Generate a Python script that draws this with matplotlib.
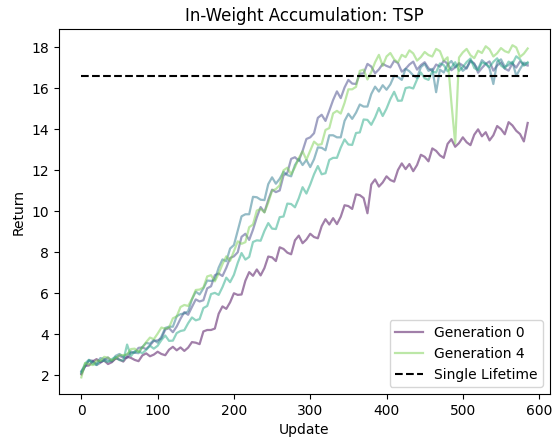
import numpy as np
import matplotlib
matplotlib.use("Agg")
import matplotlib.pyplot as plt

updates = np.arange(0, 590, 5)

gen0 = [2.05, 2.46, 2.48, 2.68, 2.79, 2.64, 2.72, 2.55, 2.64, 2.82,
        2.77, 2.67, 2.91, 2.85, 2.75, 2.69, 2.97, 3.07, 2.93, 3.01,
        3.15, 3.04, 2.98, 3.25, 3.39, 3.22, 3.36, 3.19, 3.35, 3.62,
        3.59, 3.52, 4.14, 4.21, 4.21, 4.28, 5.0, 5.36, 5.24, 5.56,
        6.0, 5.92, 5.94, 6.61, 7.03, 6.85, 7.16, 6.87, 7.23, 7.79,
        7.75, 7.57, 8.24, 8.16, 7.98, 7.9, 8.58, 8.81, 8.44, 8.62,
        8.9, 8.74, 8.68, 9.27, 9.61, 9.35, 9.66, 9.37, 9.73, 10.29,
        10.25, 10.11, 10.82, 10.78, 10.64, 9.9, 11.3, 11.55, 11.2, 11.4,
        11.7, 11.52, 11.44, 12.01, 12.33, 12.05, 12.3, 11.95, 12.25, 12.75,
        12.65, 12.43, 13.06, 12.94, 12.72, 12.6, 13.28, 13.51, 13.14, 13.32,
        13.6, 13.36, 13.22, 13.73, 13.99, 13.65, 13.85, 13.45, 13.7, 14.15,
        14.0, 13.75, 14.34, 14.18, 13.92, 13.76, 13.4, 14.3]

gen1 = [2.2, 2.46, 2.74, 2.71, 2.5, 2.61, 2.76, 2.87, 2.68, 2.83,
        2.95, 2.86, 2.85, 3.1, 3.11, 3.34, 3.36, 3.28, 3.46, 3.68,
        3.7, 3.8, 4.23, 4.3, 4.1, 4.38, 4.76, 5.08, 4.95, 5.33,
        5.7, 5.6, 5.66, 6.24, 6.34, 6.88, 6.96, 6.84, 7.24, 7.72,
        7.8, 8.0, 8.75, 8.9, 8.6, 9.1, 9.7, 10.2, 9.95, 10.55,
        11.05, 10.93, 11.01, 11.74, 11.87, 12.55, 12.63, 12.46, 12.94, 13.52,
        13.6, 13.8, 14.55, 14.7, 14.4, 14.9, 15.42, 15.84, 15.51, 16.03,
        16.4, 16.22, 16.2, 16.7, 16.72, 17.18, 17.05, 16.72, 16.91, 17.18,
        17.08, 17.01, 17.33, 17.22, 16.8, 16.94, 17.15, 17.29, 16.9, 17.12,
        17.26, 16.97, 16.83, 17.15, 17.04, 17.33, 17.19, 16.87, 17.01, 17.22,
        17.1, 16.95, 17.35, 17.2, 16.75, 16.98, 17.18, 17.3, 16.85, 17.1,
        17.25, 16.95, 16.85, 17.2, 17.0, 17.3, 17.15, 17.1]

gen2 = [2.1, 2.44, 2.7, 2.66, 2.58, 2.84, 2.8, 2.72, 2.68, 2.95,
        3.04, 2.92, 3.02, 3.16, 3.1, 3.08, 3.38, 3.58, 3.54, 3.72,
        3.59, 3.89, 4.31, 4.37, 4.37, 4.88, 4.98, 5.02, 5.12, 5.7,
        6.08, 5.94, 6.24, 6.62, 6.6, 6.66, 7.25, 7.65, 7.56, 8.18,
        8.35, 9.05, 9.75, 9.85, 9.85, 10.7, 10.68, 10.56, 10.54, 11.32,
        11.65, 11.34, 11.58, 11.92, 11.76, 11.7, 12.25, 12.55, 12.25, 12.5,
        12.15, 12.53, 13.11, 13.09, 12.97, 13.7, 13.7, 13.6, 13.6, 14.4,
        14.75, 14.5, 14.8, 15.2, 15.1, 15.1, 15.71, 16.07, 15.83, 16.14,
        15.92, 16.18, 16.6, 16.54, 16.4, 16.94, 16.82, 16.62, 16.5, 17.02,
        17.18, 16.84, 16.94, 15.8, 16.9, 16.76, 17.14, 17.32, 17.02, 17.16,
        16.84, 17.0, 17.32, 17.16, 16.92, 17.36, 17.2, 16.96, 16.2, 17.28,
        17.4, 17.04, 17.12, 17.28, 16.6, 16.93, 17.24, 17.2]

gen3 = [2.16, 2.58, 2.76, 2.55, 2.51, 2.72, 2.7, 2.65, 2.79, 2.9,
        2.74, 2.72, 3.5, 2.94, 3.18, 3.16, 3.08, 3.24, 3.44, 3.3,
        3.44, 3.72, 3.94, 3.68, 3.69, 4.06, 4.16, 4.2, 4.54, 4.82,
        4.68, 4.74, 5.28, 5.38, 5.96, 6.02, 5.92, 6.3, 6.76, 6.54,
        6.9, 7.48, 7.96, 7.64, 7.77, 8.5, 8.58, 8.56, 9.04, 9.42,
        9.15, 9.13, 9.71, 9.74, 10.37, 10.35, 10.19, 10.63, 11.17, 10.86,
        11.3, 11.8, 12.2, 11.8, 11.85, 12.5, 12.6, 12.6, 13.1, 13.5,
        13.25, 13.23, 13.81, 13.84, 14.47, 14.45, 14.21, 14.57, 15.03, 14.64,
        15.0, 15.46, 15.82, 15.38, 15.39, 16.0, 16.04, 15.98, 16.42, 16.76,
        16.48, 16.4, 16.8, 16.76, 17.2, 17.12, 16.82, 17.0, 17.26, 16.84,
        17.02, 17.27, 17.44, 16.98, 16.87, 17.24, 17.18, 17.03, 17.28, 17.45,
        17.1, 16.96, 17.29, 17.18, 17.55, 17.4, 17.09, 17.26]

gen4 = [1.9, 2.6, 2.54, 2.5, 2.72, 2.7, 2.9, 2.86, 2.72, 2.83,
        2.98, 2.98, 3.02, 3.28, 3.3, 3.14, 3.36, 3.62, 3.84, 3.76,
        4.03, 4.33, 4.27, 4.33, 4.78, 4.87, 5.33, 5.43, 5.38, 5.72,
        6.16, 6.18, 6.28, 6.82, 6.88, 6.58, 6.96, 7.42, 7.8, 7.58,
        8.05, 8.53, 8.41, 8.49, 9.22, 9.35, 10.03, 10.11, 9.94, 10.42,
        11.0, 11.08, 11.26, 11.99, 12.12, 11.8, 12.14, 12.58, 12.92, 12.51,
        12.95, 13.39, 13.23, 13.27, 13.96, 14.05, 14.77, 14.89, 14.76, 15.28,
        15.94, 15.94, 16.06, 16.84, 16.9, 16.42, 16.78, 17.26, 17.62, 17.08,
        17.54, 17.71, 17.4, 17.25, 17.62, 17.51, 17.84, 17.69, 17.34, 17.51,
        17.76, 17.61, 17.54, 17.91, 17.8, 17.33, 17.5, 15.3, 13.3, 17.49,
        17.74, 17.91, 17.6, 17.46, 17.82, 17.71, 18.04, 17.89, 17.54, 17.7,
        17.95, 17.8, 17.73, 18.09, 17.98, 17.52, 17.68, 17.93]

generations = [gen0, gen1, gen2, gen3, gen4]
gen_labels = ["Generation 0", None, None, None, "Generation 4"]
single_lifetime = 16.6

fig = plt.figure(figsize=(5.53, 4.40), dpi=100)
ax = fig.add_axes([59 / 553, 1 - 394 / 440, (550 - 59) / 553, (394 - 29) / 440])

colors = plt.cm.viridis(np.linspace(0, 0.8, len(generations)))
for vals, col, lab in zip(generations, colors, gen_labels):
    ax.plot(updates, vals, color=col, alpha=0.5, lw=1.6,
            label=lab if lab else "_nolegend_")

ax.hlines(single_lifetime, updates[0], updates[-1], colors="black",
          linestyles="--", lw=1.5, label="Single Lifetime")

ax.set_xlim(-29.25, 614.25)
ax.set_ylim(1.09, 18.88)
ax.set_xticks([0, 100, 200, 300, 400, 500, 600])
ax.set_yticks([2, 4, 6, 8, 10, 12, 14, 16, 18])
ax.set_title("In-Weight Accumulation: TSP")
ax.set_xlabel("Update")
ax.set_ylabel("Return")
ax.legend(loc="lower right")

fig.savefig("out.png", dpi=100)
